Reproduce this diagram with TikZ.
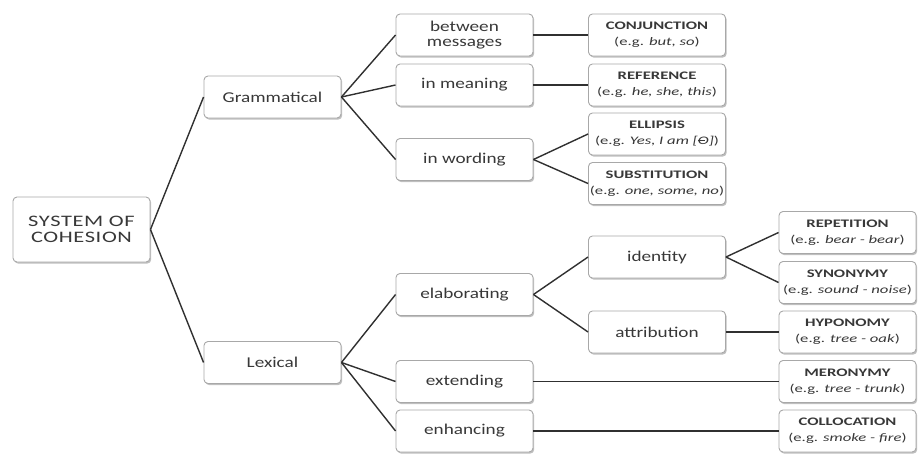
\documentclass[tikz,border=0pt]{standalone}
\usepackage{fontspec}
\usetikzlibrary{shadows}
\newfontfamily\lblfont[FakeStretch=1.28]{Carlito}
\newfontfamily\rootfont[FakeStretch=1.4, LetterSpace=4]{Carlito}
\newfontfamily\exfont[FakeStretch=1.45]{Carlito}
\definecolor{txt}{HTML}{383838}
\definecolor{bord}{HTML}{A8A8A8}
\definecolor{edge}{HTML}{303030}
\newcommand{\strikeO}{\makebox[0pt][l]{\raisebox{0.33em}{\rule{0.62em}{0.07em}}}O}
\tikzset{
  box/.style={draw=bord, line width=0.9pt, rounded corners=4pt, fill=white,
    drop shadow={shadow xshift=1.2pt, shadow yshift=-1.6pt, fill=black, opacity=0.25},
    minimum width=137pt, minimum height=42pt, inner sep=0pt, align=center, text=txt},
  lbl/.style={box, font=\lblfont\fontsize{15}{15}\selectfont},
  rootlbl/.style={box, font=\rootfont\fontsize{16}{16}\selectfont},
  ex/.style={box, font=\exfont\fontsize{11.5}{16}\selectfont},
  conn/.style={draw=edge, line width=1.4pt}
}
\begin{document}
\begin{tikzpicture}[x=1pt,y=-1pt]
\useasboundingbox (0,0) rectangle (921,455);
% level 0
\node[rootlbl, minimum height=65pt] (root) at (81.5,229.5) {SYSTEM OF\\COHESION};
% level 1
\node[lbl] (gram) at (272.5,97) {Grammatical};
\node[lbl] (lex) at (272.5,362.5) {Lexical};
% level 2
\node[lbl] (bm) at (464.5,35) {between\\messages};
\node[lbl] (im) at (464.5,85) {in meaning};
\node[lbl] (iw) at (464.5,159.5) {in wording};
\node[lbl] (elab) at (464.5,294.5) {elaborating};
\node[lbl] (ext) at (464.5,381.5) {extending};
\node[lbl] (enh) at (464.5,431) {enhancing};
% level 3
\node[ex] (conj) at (657,35) {\textbf{CONJUNCTION}\\(e.g. \textit{but, so})};
\node[ex] (ref) at (657,85) {\textbf{REFERENCE}\\(e.g. \textit{he, she, this})};
\node[ex] (ell) at (657,134) {\textbf{ELLIPSIS}\\(e.g. \textit{Yes, I am [\strikeO]})};
\node[ex] (sub) at (657,183.5) {\textbf{SUBSTITUTION}\\(e.g. \textit{one, some, no})};
\node[lbl] (ident) at (657,257) {identity};
\node[lbl] (attr) at (657,332) {attribution};
% level 4
\node[ex] (rep) at (847.5,232.5) {\textbf{REPETITION}\\(e.g. \textit{bear - bear})};
\node[ex] (syn) at (847.5,282.5) {\textbf{SYNONYMY}\\(e.g. \textit{sound - noise})};
\node[ex] (hyp) at (847.5,332) {\textbf{HYPONOMY}\\(e.g. \textit{tree - oak})};
\node[ex] (mer) at (847.5,381.5) {\textbf{MERONYMY}\\(e.g. \textit{tree - trunk})};
\node[ex] (col) at (847.5,431) {\textbf{COLLOCATION}\\(e.g. \textit{smoke - fire})};
% connectors
\draw[conn] (root.east) -- (gram.west);
\draw[conn] (root.east) -- (lex.west);
\draw[conn] (gram.east) -- (bm.west);
\draw[conn] (gram.east) -- (im.west);
\draw[conn] (gram.east) -- (iw.west);
\draw[conn] (bm.east) -- (conj.west);
\draw[conn] (im.east) -- (ref.west);
\draw[conn] (iw.east) -- (ell.west);
\draw[conn] (iw.east) -- (sub.west);
\draw[conn] (lex.east) -- (elab.west);
\draw[conn] (lex.east) -- (ext.west);
\draw[conn] (lex.east) -- (enh.west);
\draw[conn] (elab.east) -- (ident.west);
\draw[conn] (elab.east) -- (attr.west);
\draw[conn] (ident.east) -- (rep.west);
\draw[conn] (ident.east) -- (syn.west);
\draw[conn] (attr.east) -- (hyp.west);
\draw[conn] (ext.east) -- (mer.west);
\draw[conn] (enh.east) -- (col.west);
\end{tikzpicture}
\end{document}
